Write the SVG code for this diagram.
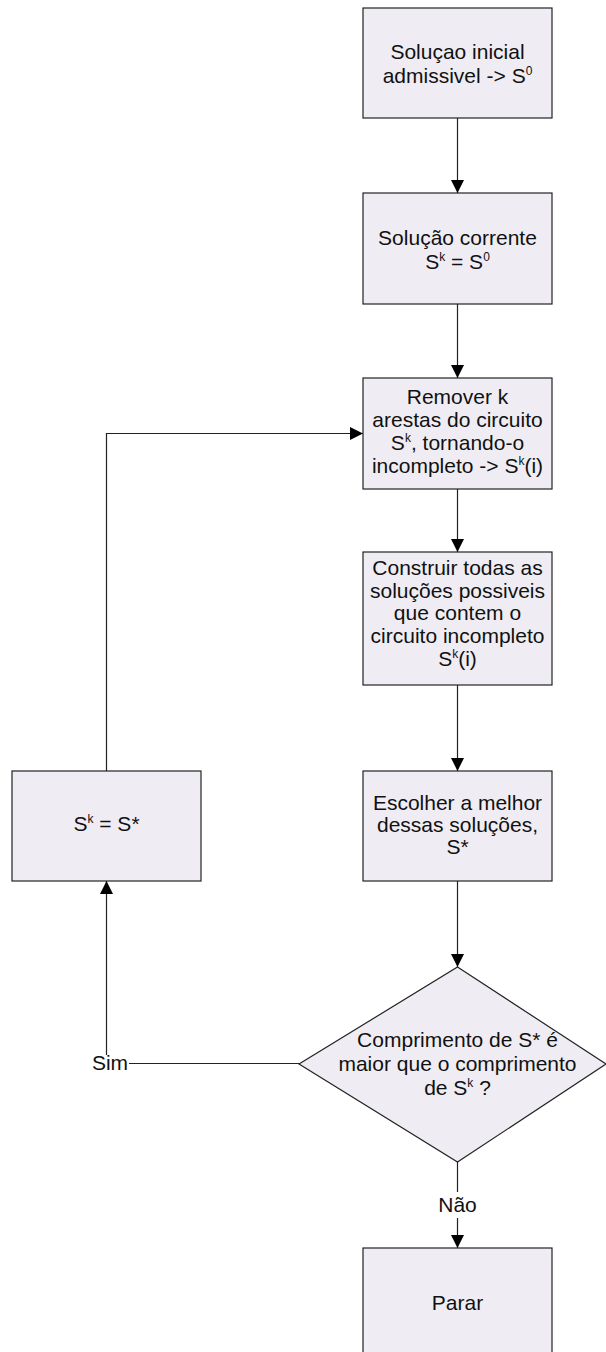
<svg xmlns="http://www.w3.org/2000/svg" width="606" height="1352" viewBox="0 0 606 1352">
<style>
.box{fill:#EFEDF3;stroke:#222;stroke-width:1.2}
.t{font-family:"Liberation Sans",Arial,sans-serif;font-size:21px;fill:#111;text-anchor:middle}
.sup{font-size:12px}
.c{fill:none;stroke:#222;stroke-width:1.2}
</style>
<defs>
<marker id="ah" markerUnits="userSpaceOnUse" markerWidth="14" markerHeight="14" refX="13" refY="6.5" orient="auto">
<path d="M0,0 L13,6.5 L0,13 z" fill="#000"/>
</marker>
</defs>
<rect width="606" height="1352" fill="#fff"/>
<g id="connectors">
<line class="c" x1="457.5" y1="118" x2="457.5" y2="193" marker-end="url(#ah)"/>
<line class="c" x1="457.5" y1="304" x2="457.5" y2="378" marker-end="url(#ah)"/>
<line class="c" x1="457.5" y1="489" x2="457.5" y2="552" marker-end="url(#ah)"/>
<line class="c" x1="457.5" y1="685" x2="457.5" y2="771" marker-end="url(#ah)"/>
<line class="c" x1="457.5" y1="881" x2="457.5" y2="967" marker-end="url(#ah)"/>
<polyline class="c" points="106.5,771 106.5,433.5 363,433.5" marker-end="url(#ah)"/>
<line class="c" x1="299" y1="1063.5" x2="129" y2="1063.5"/>
<line class="c" x1="106.5" y1="1055" x2="106.5" y2="881" marker-end="url(#ah)"/>
<text class="t" x="110" y="1070">Sim</text>
<line class="c" x1="457.5" y1="1162" x2="457.5" y2="1192"/>
<text class="t" x="457.5" y="1212">Não</text>
<line class="c" x1="457.5" y1="1218" x2="457.5" y2="1248" marker-end="url(#ah)"/>
</g>
<g id="n1">
<rect class="box" x="363" y="8" width="189" height="110"/>
<text class="t" x="457.5" y="59">Soluçao inicial</text>
<text class="t" x="457.5" y="83">admissivel -&gt; S<tspan class="sup" dy="-8">0</tspan></text>
</g>
<g id="n2">
<rect class="box" x="363" y="193" width="189" height="111"/>
<text class="t" x="457.5" y="245">Solução corrente</text>
<text class="t" x="457.5" y="269">S<tspan class="sup" dy="-8">k</tspan><tspan dy="8"> = S</tspan><tspan class="sup" dy="-8">0</tspan></text>
</g>
<g id="n3">
<rect class="box" x="363" y="378" width="189" height="111"/>
<text class="t" x="457.5" y="404">Remover k</text>
<text class="t" x="457.5" y="427">arestas do circuito</text>
<text class="t" x="457.5" y="450">S<tspan class="sup" dy="-8">k</tspan><tspan dy="8">, tornando-o</tspan></text>
<text class="t" x="457.5" y="473">incompleto -&gt; S<tspan class="sup" dy="-8">k</tspan><tspan dy="8">(i)</tspan></text>
</g>
<g id="n4">
<rect class="box" x="363" y="552" width="189" height="133"/>
<text class="t" x="457.5" y="575">Construir todas as</text>
<text class="t" x="457.5" y="597.5">soluções possiveis</text>
<text class="t" x="457.5" y="620">que contem o</text>
<text class="t" x="457.5" y="642.5">circuito incompleto</text>
<text class="t" x="457.5" y="666">S<tspan class="sup" dy="-8">k</tspan><tspan dy="8">(i)</tspan></text>
</g>
<g id="n5">
<rect class="box" x="363" y="771" width="189" height="110"/>
<text class="t" x="457.5" y="810">Escolher a melhor</text>
<text class="t" x="457.5" y="832">dessas soluções,</text>
<text class="t" x="457.5" y="854">S*</text>
</g>
<g id="n6">
<rect class="box" x="12" y="771" width="189" height="110"/>
<text class="t" x="106.5" y="831">S<tspan class="sup" dy="-8">k</tspan><tspan dy="8"> = S*</tspan></text>
</g>
<g id="n7">
<polygon class="box" points="457.5,967 606,1064 457.5,1162 299,1064"/>
<text class="t" x="457.5" y="1047">Comprimento de S* é</text>
<text class="t" x="457.5" y="1071">maior que o comprimento</text>
<text class="t" x="457.5" y="1095">de S<tspan class="sup" dy="-8">k</tspan><tspan dy="8"> ?</tspan></text>
</g>
<g id="n8">
<rect class="box" x="363" y="1248" width="189" height="112"/>
<text class="t" x="457.5" y="1310">Parar</text>
</g>
</svg>
